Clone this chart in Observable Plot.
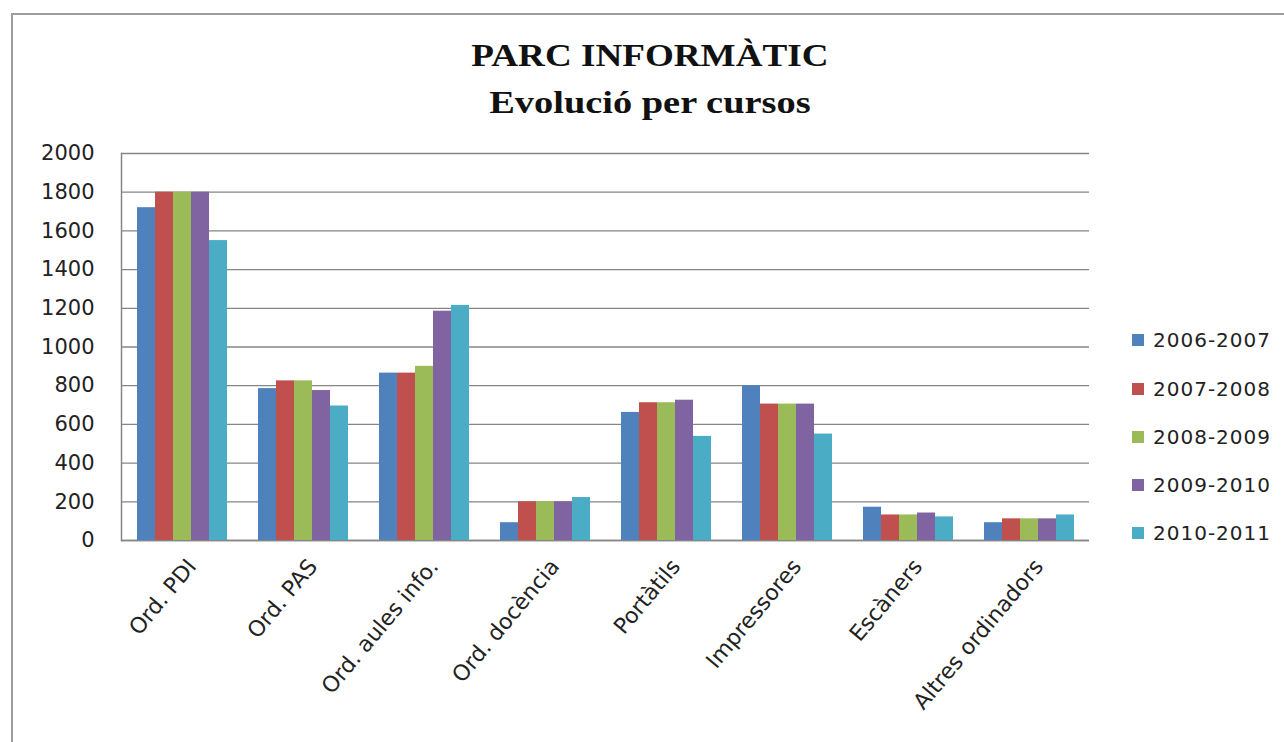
<!DOCTYPE html>
<html>
<head>
<meta charset="utf-8">
<script src="https://cdn.jsdelivr.net/npm/d3@7"></script>
<script src="https://cdn.jsdelivr.net/npm/@observablehq/plot@0.6"></script>
<style>
  html, body { margin: 0; padding: 0; background: #fff; }
  #chart { position: relative; width: 1284px; height: 742px; overflow: hidden; background: #fff; }
  #border { position: absolute; left: 11px; top: 13px; width: 1300px; height: 760px; border: 2px solid #9d9d9d; box-sizing: border-box; }
  .title { position: absolute; left: 0; width: 1300px; text-align: center; font-family: "Liberation Serif", serif; font-weight: bold; font-size: 32px; line-height: 32px; color: #111; }
  .title span { display: inline-block; }
  #head { height: 130px; }
  #plot { position: relative; }
  .leg { position: absolute; left: 1132px; font-family: "DejaVu Sans", sans-serif; font-size: 20px; letter-spacing: 1px; color: #222; }
  .leg i { position: absolute; left: 0; top: -6px; width: 12px; height: 12px; }
  .leg b { position: absolute; left: 21px; top: -12px; font-weight: normal; white-space: nowrap; line-height: 24px; }
</style>
</head>
<body>
<div id="chart">
  <div id="border"></div>
  <div id="head"></div>
  <div id="plot"></div>
</div>
<script>
const titleLines = ["PARC INFORMÀTIC", "Evolució per cursos"];
const categories = ["Ord. PDI", "Ord. PAS", "Ord. aules info.", "Ord. docència", "Portàtils", "Impressores", "Escàners", "Altres ordinadors"];
const series = ["2006-2007", "2007-2008", "2008-2009", "2009-2010", "2010-2011"];
const v2006_2007 = [1720, 785, 865, 92, 662, 800, 172, 92];
const v2007_2008 = [1800, 825, 865, 200, 712, 705, 132, 112];
const v2008_2009 = [1800, 825, 900, 200, 712, 705, 132, 112];
const v2009_2010 = [1800, 775, 1185, 200, 725, 705, 142, 112];
const v2010_2011 = [1550, 695, 1215, 222, 538, 550, 122, 132];
const yTicks = [0, 200, 400, 600, 800, 1000, 1200, 1400, 1600, 1800, 2000];
const colors = ["#4F81BD", "#C0504D", "#9BBB59", "#8064A2", "#4BACC6"];

const values = [v2006_2007, v2007_2008, v2008_2009, v2009_2010, v2010_2011];
const data = categories.flatMap((c, i) => series.map((s, j) => ({cat: c, series: s, value: values[j][i]})));

const chart = document.getElementById("chart");
const titleTops = [39, 86];
const titleScales = [1.16, 1.2];
titleLines.forEach((t, i) => {
  const d = document.createElement("div");
  d.className = "title";
  d.style.top = titleTops[i] + "px";
  const sp = document.createElement("span");
  sp.textContent = t;
  sp.style.transform = "scaleX(" + titleScales[i] + ")";
  d.appendChild(sp);
  chart.appendChild(d);
});

const legTops = [340, 389, 437, 485, 533];
series.forEach((s, i) => {
  const d = document.createElement("div");
  d.className = "leg";
  d.style.top = legTops[i] + "px";
  const sw = document.createElement("i");
  sw.style.background = colors[i];
  const tx = document.createElement("b");
  tx.textContent = s;
  d.appendChild(sw);
  d.appendChild(tx);
  chart.appendChild(d);
});

const plot = Plot.plot({
  width: 1284,
  height: 612,
  marginTop: 23,
  marginBottom: 202,
  marginLeft: 120,
  marginRight: 195,
  style: {fontFamily: "DejaVu Sans, sans-serif", color: "#222", background: "transparent", overflow: "visible"},
  fx: {domain: categories, padding: 0, label: null},
  x: {domain: series, paddingInner: 0, paddingOuter: 0.75, axis: null},
  y: {domain: [0, 2000], label: null},
  color: {domain: series, range: colors},
  marks: [
    Plot.gridY(yTicks, {stroke: "#868686", strokeOpacity: 1, strokeWidth: 1.3}),
    Plot.ruleY([0], {stroke: "#868686", strokeWidth: 1.5}),
    Plot.frame({anchor: "left", stroke: "#868686", strokeWidth: 1.5, facetAnchor: "left"}),
    Plot.barY(data, {fx: "cat", x: "series", y: "value", fill: "series"}),
    Plot.axisY({ticks: yTicks, tickSize: 0, tickPadding: 27, fontSize: 21, label: null, tickFormat: d => String(d)}),
    Plot.axisFx({anchor: "bottom", tickRotate: -50, tickSize: 0, tickPadding: 22, fontSize: 22, label: null, dx: 10})
  ]
});
document.getElementById("plot").appendChild(plot);
</script>
</body>
</html>
